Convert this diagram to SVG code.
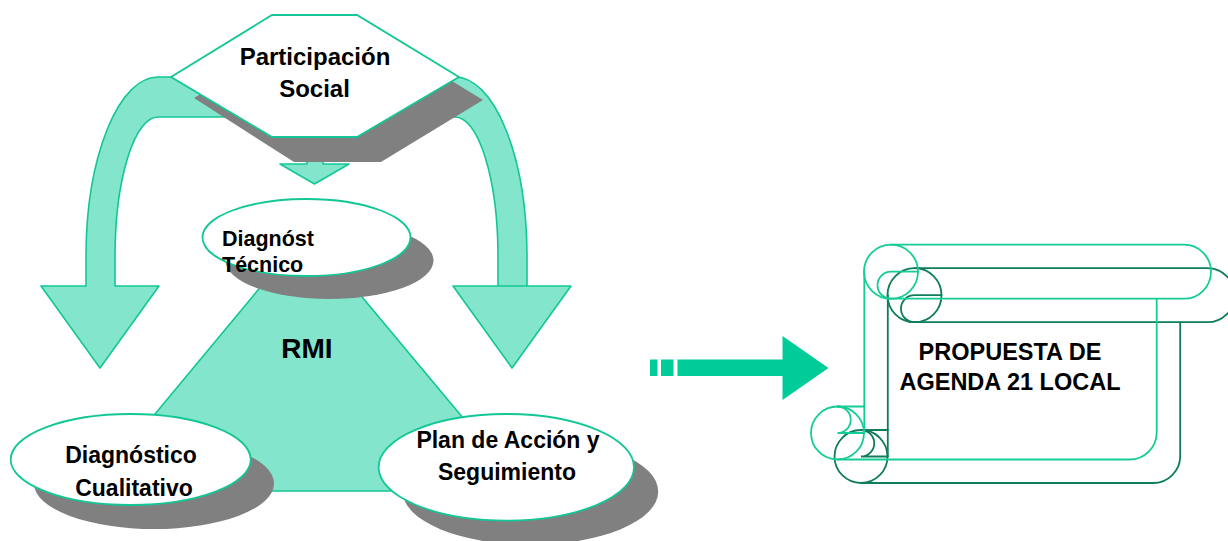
<svg xmlns="http://www.w3.org/2000/svg" width="1228" height="541" viewBox="0 0 1228 541">
  <style>
    .mint { fill:#82E5CC; stroke:#12C795; stroke-width:1.6; stroke-linejoin:round; }
    .shadow { fill:#808080; stroke:none; }
    .node { fill:#FFFFFF; stroke:#12C795; stroke-width:1.8; }
    .lbl { font-family:"Liberation Sans", Arial, sans-serif; font-weight:bold; font-size:23px; fill:#000000; text-anchor:middle; }
    .scroll { fill:none; stroke-width:1.8; stroke-linecap:round; }
    .light { stroke:#14CC96; }
    .dark { stroke:#0E7D5C; }
  </style>
  <defs>
    <g id="scrollShape">
      <circle cx="891" cy="271.7" r="27"/>
      <path d="M 891 244.7 L 1184 244.7 A 27 27 0 0 1 1184 298.7 L 891 298.7"/>
      <path d="M 918 271.7 L 891 271.7 A 13.5 13.5 0 0 0 891 298.7"/>
      <path d="M 864.3 271.7 L 864.3 433"/>
      <path d="M 1156.7 298.7 L 1156.7 432.5 A 27 27 0 0 1 1129.7 459.5 L 837.5 459.5"/>
      <circle cx="837.5" cy="433" r="26.5"/>
      <path d="M 837.5 406.5 L 864.3 406.5"/>
      <path d="M 837.5 406.5 A 13.25 13.25 0 0 1 837.5 433 L 864.3 433"/>
    </g>
  </defs>

  <g id="connectors">
    <path id="arrow-left" class="mint" d="M 240 117 L 158 117 A 43 140 0 0 0 115 257 L 115 286 L 159 286 L 100 368 L 41 286 L 86 286 L 86 257 A 72 180 0 0 1 158 77 L 200 77 Z"/>
    <path id="arrow-right" class="mint" d="M 380 117 L 455 117 A 43 140 0 0 1 498 257 L 498 286 L 571 286 L 512 368 L 453 286 L 527 286 L 527 257 A 72 180 0 0 0 455 77 L 420 77 Z"/>
    <path id="arrow-down" class="mint" d="M 307 140 L 307 164 L 280 164 L 314.5 184 L 349 164 L 323 164 L 323 140 Z"/>
    <g id="arrow-big" fill="#00CC99">
      <rect x="650" y="359.5" width="7.5" height="16.5"/>
      <rect x="661" y="359.5" width="12.5" height="16.5"/>
      <path d="M 677.5 359.5 L 782.5 359.5 L 782.5 336 L 828.5 368 L 782.5 400 L 782.5 376 L 677.5 376 Z"/>
    </g>
  </g>

  <g id="node-participacion">
    <polygon class="shadow" points="194,98 294,37 380,37 483,100 381,162 294,162"/>
    <polygon class="node" points="272,15 357,15 459,77 357,137 272,137 171,77"/>
    <text class="lbl" x="315" y="65" style="font-size:24px">Participación</text>
    <text class="lbl" x="314.5" y="97" style="font-size:24px">Social</text>
  </g>

  <g id="node-rmi">
    <polygon class="mint" points="307,231 91,491 524,491"/>
    <text class="lbl" x="307" y="358" style="font-size:28px">RMI</text>
  </g>

  <g id="node-diagnostico-tecnico">
    <ellipse class="shadow" cx="329.5" cy="260.5" rx="104" ry="38.5"/>
    <ellipse class="node" cx="306.5" cy="237.5" rx="104" ry="38.5"/>
    <text class="lbl" x="222" y="245.5" style="font-size:21.5px; text-anchor:start">Diagnóst</text>
    <text class="lbl" x="222" y="271.5" style="font-size:21.5px; text-anchor:start">Técnico</text>
  </g>

  <g id="node-diagnostico-cualitativo">
    <ellipse class="shadow" cx="154" cy="483.5" rx="120" ry="45.5"/>
    <ellipse class="node" cx="130.7" cy="459.5" rx="120" ry="45.5"/>
    <text class="lbl" x="131" y="463">Diagnóstico</text>
    <text class="lbl" x="134" y="495.5">Cualitativo</text>
  </g>

  <g id="node-plan-accion">
    <ellipse class="shadow" cx="530.5" cy="491.5" rx="127.7" ry="53.3"/>
    <ellipse class="node" cx="506.3" cy="467.3" rx="127.7" ry="53.3"/>
    <text class="lbl" x="508" y="448">Plan de Acción y</text>
    <text class="lbl" x="507" y="480">Seguimiento</text>
  </g>

  <g id="node-propuesta">
    <use href="#scrollShape" class="scroll dark" transform="translate(23.5,23.5)"/>
    <use href="#scrollShape" class="scroll light"/>
    <text class="lbl" x="1010" y="359.5" style="font-size:23.5px">PROPUESTA DE</text>
    <text class="lbl" x="1010" y="389.5" style="font-size:23.5px">AGENDA 21 LOCAL</text>
  </g>
</svg>
